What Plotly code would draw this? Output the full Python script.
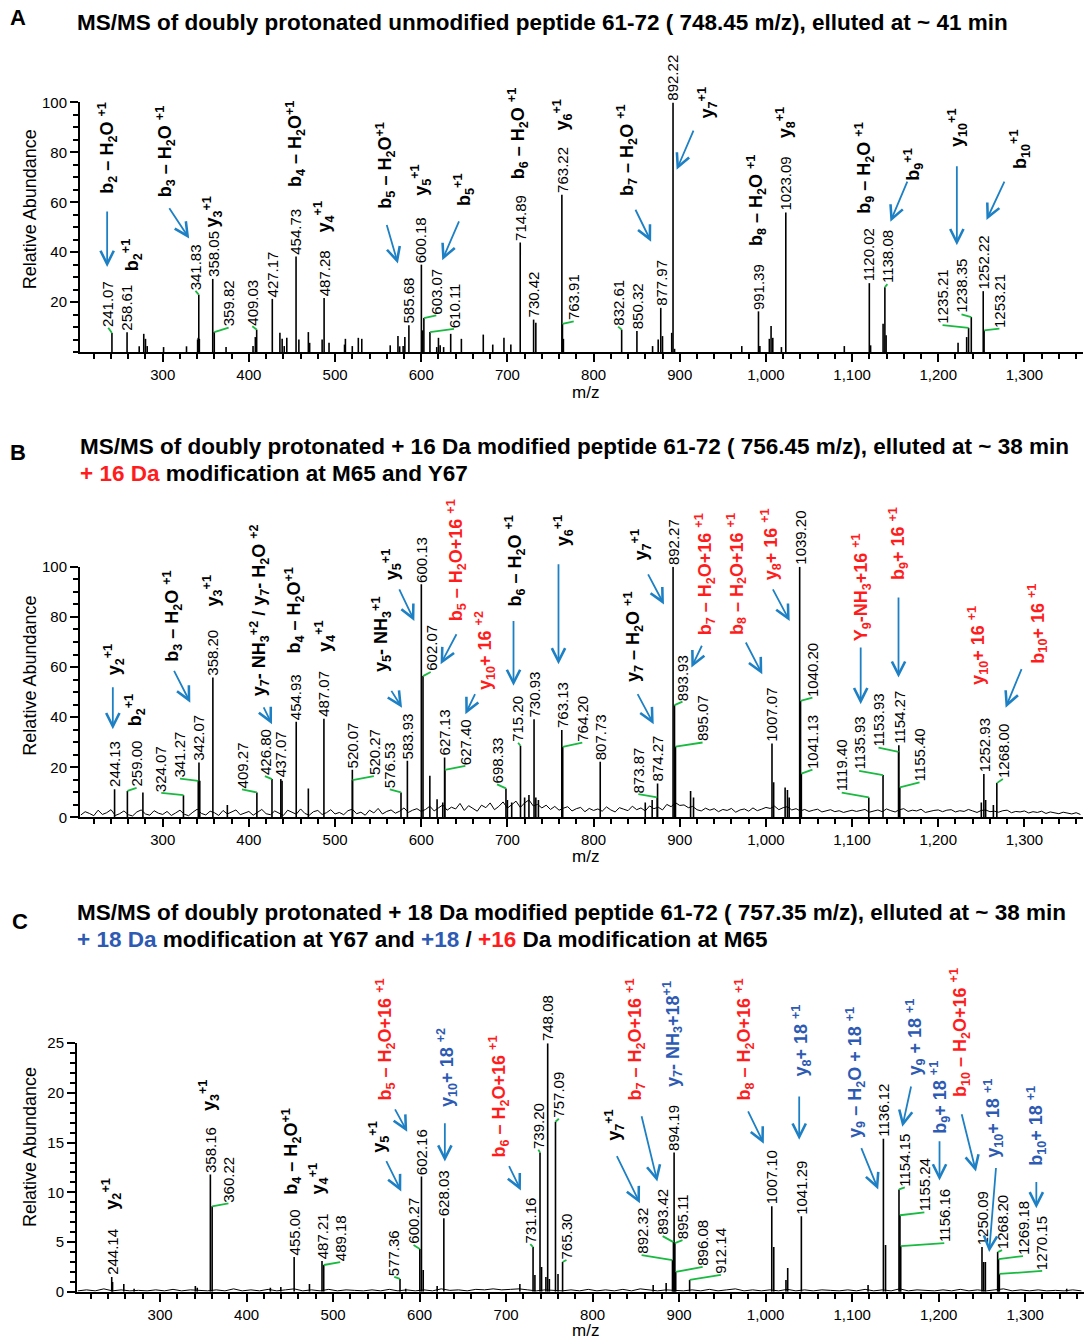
import numpy as np
import plotly.graph_objects as go

FONT = "Liberation Sans, Arial, sans-serif"
TFONT = "Liberation Sans Narrow, Arial Narrow, Liberation Sans, Arial, sans-serif"
RED = "rgb(255,28,28)"
BLUE = "rgb(45,90,178)"
ARROW = "rgb(30,128,196)"
GREEN = "rgb(24,186,64)"

# ---------------- Panel A data ----------------
A_lab_text = ["241.07", "258.61", "341.83", "358.05", "359.82", "409.03", "427.17", "454.73",
              "487.28", "585.68", "600.18", "603.07", "610.11", "714.89", "730.42", "763.22",
              "763.91", "832.61", "850.32", "877.97", "892.22", "991.39", "1023.09", "1120.02",
              "1138.08", "1235.21", "1238.35", "1252.22", "1253.21"]
A_lab_int = [7.6, 7.9, 23.0, 29.3, 8.0, 9.0, 21.3, 38.3,
             21.7, 10.7, 35.0, 13.6, 8.0, 43.9, 13.0, 63.0,
             11.3, 9.0, 8.4, 17.7, 100.0, 16.3, 55.9, 27.6,
             26.0, 9.7, 14.0, 24.4, 8.7]
A_small_mz = [272.7, 278, 280, 282, 301, 327.6, 340.5, 341.2, 342.5, 373.5, 404.8, 407.5, 436, 438.6,
              441, 444, 458, 469, 470.5, 485, 493, 511, 512, 520, 527, 531, 564, 573, 575, 579, 581,
              601.5, 618, 620, 622, 626, 634.2, 646.6, 672, 683, 696, 704, 733, 765, 868.5, 875, 880,
              890.7, 894, 972, 993, 1004, 1006, 1008, 1018, 1091, 1121.5, 1136, 1139.5, 1223, 1233]
A_small_int = [2.3, 7.3, 5.3, 2.4, 2.0, 2.3, 5.0, 5.7, 5.3, 2.0, 2.4, 6.0, 7.7, 5.3,
               2.4, 5.7, 5.0, 8.0, 3.7, 5.0, 3.7, 3.0, 5.3, 2.4, 5.7, 5.3, 2.7, 6.4, 2.3, 2.4, 6.0,
               8.7, 2.0, 5.7, 2.7, 2.0, 7.3, 5.3, 7.0, 3.0, 5.7, 3.0, 11.7, 5.3, 2.4, 5.0, 6.4,
               7.7, 1.3, 2.4, 2.4, 5.3, 10.4, 5.7, 2.0, 2.4, 2.7, 11.3, 6.7, 3.7, 6.0]

# ---------------- Panel B data ----------------
B_lab_text = ["244.13", "259.00", "324.07", "341.27", "342.07", "358.20", "409.27", "426.80",
              "437.07", "454.93", "487.07", "520.07", "520.27", "576.53", "583.93", "600.13",
              "602.07", "627.13", "627.40", "698.33", "715.20", "730.93", "763.13", "764.20",
              "807.73", "873.87", "874.27", "892.27", "893.93", "895.07", "1007.07", "1039.20",
              "1040.20", "1041.13", "1119.40", "1135.93", "1153.93", "1154.27", "1155.40",
              "1252.93", "1268.00"]
B_lab_int = [11.3, 10.6, 8.9, 14.6, 21.9, 55.8, 10.0, 15.3,
             15.3, 38.2, 39.4, 19.0, 14.9, 10.0, 22.6, 93.0,
             56.4, 23.9, 19.0, 11.6, 28.6, 39.2, 34.9, 28.2,
             22.2, 8.0, 13.5, 100.0, 44.8, 28.3, 29.5, 100.0,
             46.5, 17.5, 8.0, 16.9, 26.2, 28.8, 12.0,
             17.3, 13.7]
B_small_mz = [277, 343, 375, 438.5, 469, 610, 618.4, 625, 700, 705, 720, 725, 733, 736,
              860, 868, 912.6, 916, 1009, 1022.3, 1025, 1027, 1250, 1255, 1264]
B_small_int = [10.0, 14.6, 5.0, 14.6, 11.6, 16.6, 7.3, 6.0, 7.0, 6.0, 8.0, 9.0, 8.0, 7.0,
               6.0, 7.0, 10.6, 8.0, 14.0, 12.0, 11.0, 8.0, 6.0, 7.0, 5.0]
B_noise_start, B_noise_step = 205, 5
B_noise = [1.0, 2.3, 1.6, 0.7, 2.9, 1.2, 1.9, 3.1, 0.8, 1.5, 2.6, 1.1, 0.6, 2.2, 3.0, 1.4, 0.9, 2.7, 1.7, 1.2,
           2.4, 0.8, 1.8, 2.9, 1.3, 0.7, 2.1, 3.3, 1.6, 1.0, 2.5, 1.9, 0.8, 2.8, 1.4, 2.2, 3.0, 1.1, 1.7, 2.4,
           0.9, 2.0, 3.2, 1.5, 1.1, 2.6, 1.8, 0.8, 2.9, 2.2, 1.3, 3.4, 1.6, 0.9, 2.3, 2.8, 1.2, 1.9, 3.1, 1.4,
           2.0, 1.1, 2.7, 3.3, 1.5, 2.1, 0.9, 2.9, 1.8, 3.6, 1.4, 2.4, 3.0, 1.7, 2.5, 3.8, 2.0, 2.9, 3.5, 2.4,
           3.2, 4.5, 2.6, 3.8, 5.0, 2.9, 4.1, 3.4, 5.6, 2.8, 4.7, 3.6, 2.5, 4.9, 3.9, 5.8, 3.1, 4.4, 6.2, 3.7,
           5.3, 6.5, 4.0, 5.8, 7.0, 4.6, 5.2, 3.8, 4.9, 3.2, 4.4, 2.9, 3.7, 4.3, 2.6, 3.5, 4.0, 2.3, 3.6, 2.8,
           3.4, 2.5, 4.2, 3.0, 2.2, 3.9, 3.3, 2.7, 4.5, 3.1, 3.8, 2.6, 4.6, 3.5, 4.1, 3.0, 5.2, 4.3, 5.9, 4.8,
           5.0, 3.9, 4.4, 3.1, 2.6, 3.7, 2.9, 3.5, 2.3, 3.2, 2.8, 3.6, 2.1, 3.0, 3.4, 2.5, 3.8, 2.7, 3.3, 4.0,
           3.6, 4.5, 3.1, 3.9, 4.3, 3.0, 3.5, 2.6, 3.2, 2.4, 2.9, 3.3, 2.2, 2.8, 3.1, 2.3, 2.7, 2.0, 2.6, 2.9,
           2.4, 2.8, 3.2, 2.1, 2.6, 3.0, 2.3, 3.4, 2.7, 2.2, 3.1, 3.5, 2.4, 2.9, 2.6, 3.3, 2.0, 2.5, 2.8, 3.0,
           2.3, 2.9, 3.1, 2.2, 2.7, 2.4, 3.2, 2.6, 2.0, 2.8, 3.0, 2.3, 2.5, 2.1, 2.7, 2.9, 1.9, 2.4, 2.2, 2.6,
           1.8, 2.3, 2.0, 2.5, 1.6, 2.2, 1.9, 1.5, 2.1, 1.7, 1.4, 1.9, 1.2]

# ---------------- Panel C data ----------------
C_lab_text = ["244.14", "358.16", "360.22", "455.00", "487.21", "489.18", "577.36", "600.27",
              "602.16", "628.03", "731.16", "739.20", "748.08", "757.09", "765.30", "892.32",
              "893.42", "894.19", "895.11", "896.08", "912.14", "1007.10", "1041.29", "1136.12",
              "1154.15", "1155.24", "1156.16", "1250.09", "1268.20", "1269.18", "1270.15"]
C_lab_int = [1.5, 11.8, 8.6, 3.5, 3.1, 2.7, 1.3, 4.3,
             11.6, 7.4, 4.5, 14.0, 25.0, 17.1, 3.0, 3.2,
             5.0, 14.0, 4.9, 2.0, 1.2, 8.6, 7.6, 15.4,
             10.3, 7.7, 4.6, 4.5, 4.0, 3.3, 1.8]
C_small_mz = [245.1, 258.1, 270, 340.8, 343, 427.5, 439.6, 472.7, 584, 604.2, 620.3, 715.9, 733.3,
              741, 746, 750, 760, 870, 885, 1009.4, 1023.5, 1025.5, 1118.4, 1138.6, 1252, 1254, 1348]
C_small_int = [1.0, 0.8, 0.3, 0.6, 0.4, 0.4, 0.5, 0.8, 0.3, 2.2, 0.6, 0.8, 1.7,
               2.5, 1.5, 1.3, 1.8, 0.7, 0.9, 4.5, 1.2, 2.4, 0.7, 4.7, 3.0, 3.0, 0.3]
C_noise_start, C_noise_step = 205, 10
C_noise = [0.1, 0.2, 0.1, 0.3, 0.1, 0.2, 0.1, 0.15, 0.1, 0.2,
           0.1, 0.25, 0.1, 0.2, 0.15, 0.1, 0.2, 0.1, 0.3, 0.1,
           0.2, 0.1, 0.25, 0.1, 0.2, 0.3, 0.1, 0.2, 0.1, 0.25,
           0.1, 0.2, 0.15, 0.1, 0.2, 0.1, 0.25, 0.1, 0.2, 0.1,
           0.2, 0.1, 0.3, 0.15, 0.2, 0.1, 0.25, 0.2, 0.3, 0.2,
           0.25, 0.3, 0.2, 0.1, 0.2, 0.15, 0.1, 0.2, 0.1, 0.25,
           0.1, 0.2, 0.1, 0.25, 0.1, 0.3, 0.2, 0.1, 0.2, 0.15,
           0.1, 0.2, 0.1, 0.25, 0.1, 0.2, 0.3, 0.1, 0.2, 0.1,
           0.2, 0.1, 0.25, 0.1, 0.2, 0.1, 0.2, 0.15, 0.1, 0.2,
           0.1, 0.25, 0.1, 0.2, 0.1, 0.3, 0.1, 0.2, 0.15, 0.1,
           0.2, 0.1, 0.25, 0.1, 0.2, 0.1, 0.2, 0.3, 0.1, 0.2,
           0.1, 0.2, 0.1, 0.15, 0.1, 0.2, 0.1]

# ---------------- label placement (layout, not data) ----------------
A_leader = {"241.07": (236.8, 9.7), "341.83": (338.0, 24.5), "359.82": (376.5, 9.8),
            "409.03": (404.0, 10.3), "603.07": (617.5, 14.7), "610.11": (638.0, 9.3),
            "763.91": (777.0, 12.3), "832.61": (828.5, 10.2), "1138.08": (1141.0, 27.2),
            "1235.21": (1205.0, 10.8), "1238.35": (1227.0, 15.1), "1253.21": (1271.0, 9.4)}
B_leader = {"259.00": (269.7, 11.8), "324.07": (298.3, 9.8), "341.27": (320.0, 15.5),
            "409.27": (392.0, 11.2), "426.80": (418.6, 16.5), "520.27": (545.0, 16.5),
            "576.53": (563.5, 11.2), "602.07": (611.0, 58.0), "627.40": (651.2, 20.6),
            "698.33": (688.0, 13.2), "715.20": (712.4, 29.8), "764.20": (786.9, 29.9),
            "873.87": (852.0, 9.3), "893.93": (903.2, 46.2), "895.07": (926.5, 29.9),
            "1040.20": (1054.0, 47.8), "1041.13": (1054.0, 19.1), "1119.40": (1088.0, 9.9),
            "1135.93": (1108.2, 18.6), "1153.93": (1130.7, 27.9), "1155.40": (1178.3, 14.0),
            "1268.00": (1275.0, 15.3)}
C_leader = {"360.22": (379.1, 8.9), "489.18": (508.2, 3.0), "577.36": (570.7, 1.5),
            "600.27": (593.0, 4.7), "731.16": (728.0, 4.8), "739.20": (737.3, 14.3),
            "757.09": (761.0, 17.4), "765.30": (769.8, 3.2), "892.32": (856.6, 3.7),
            "893.42": (880.9, 5.6), "895.11": (903.9, 5.2), "896.08": (927.3, 2.5),
            "912.14": (948.3, 1.7), "1154.15": (1160.9, 10.5), "1155.24": (1183.5, 8.0),
            "1156.16": (1206.5, 4.9), "1268.20": (1273.3, 4.2), "1269.18": (1297.5, 3.6),
            "1270.15": (1319.7, 2.1)}

K = "black"
A_ions = [("b<sub>2</sub> – H<sub>2</sub>O <sup>+1</sup>", K, 235.5, 62.9),
          ("b<sub>2</sub><sup>+1</sup>", K, 264.7, 32.1),
          ("b<sub>3</sub> – H<sub>2</sub>O <sup>+1</sup>", K, 303.2, 61.6),
          ("y<sub>3</sub><sup>+1</sup>", K, 357.9, 49.5),
          ("b<sub>4</sub> – H<sub>2</sub>O<sup>+1</sup>", K, 453.3, 65.6),
          ("y<sub>4</sub><sup>+1</sup>", K, 487.7, 47.5),
          ("b<sub>5</sub> – H<sub>2</sub>O<sup>+1</sup>", K, 558.7, 56.9),
          ("y<sub>5</sub><sup>+1</sup>", K, 599.2, 62.2),
          ("b<sub>5</sub><sup>+1</sup>", K, 649.9, 58.2),
          ("b<sub>6</sub> – H<sub>2</sub>O <sup>+1</sup>", K, 712.0, 68.9),
          ("y<sub>6</sub><sup>+1</sup>", K, 764.2, 88.4),
          ("b<sub>7</sub> – H<sub>2</sub>O <sup>+1</sup>", K, 838.4, 62.2),
          ("y<sub>7</sub><sup>+1</sup>", K, 931.7, 93.0),
          ("b<sub>8</sub> – H<sub>2</sub>O <sup>+1</sup>", K, 988.4, 42.2),
          ("y<sub>8</sub><sup>+1</sup>", K, 1022.2, 85.0),
          ("b<sub>9</sub> – H<sub>2</sub>O <sup>+1</sup>", K, 1114.2, 54.9),
          ("b<sub>9</sub><sup>+1</sup>", K, 1170.9, 68.3),
          ("y<sub>10</sub><sup>+1</sup>", K, 1221.6, 81.7),
          ("b<sub>10</sub><sup>+1</sup>", K, 1294.5, 73.0)]
A_arrows = [(235.5, 56.9, 235.5, 34.1), (306.5, 58.2, 330.7, 45.5), (559.5, 51.5, 572.9, 35.5),
            (644.6, 52.9, 624.4, 36.8), (847.8, 57.6, 866.8, 44.2), (916.7, 89.3, 896.4, 73.0),
            (1164.8, 68.9, 1144.5, 52.2), (1221.6, 75.0, 1221.6, 42.8), (1277.6, 68.9, 1256.0, 52.9)]

B_ions = [("y<sub>2</sub><sup>+1</sup>", K, 243.2, 56.4),
          ("b<sub>2</sub><sup>+1</sup>", K, 267.6, 35.9),
          ("b<sub>3</sub> – H<sub>2</sub>O <sup>+1</sup>", K, 310.5, 61.8),
          ("y<sub>3</sub><sup>+1</sup>", K, 357.5, 83.7),
          ("y<sub>7</sub>- NH<sub>3</sub><sup>+2</sup> / y<sub>7</sub>- H<sub>2</sub>O <sup>+2</sup>", K, 412.4, 47.8),
          ("b<sub>4</sub> – H<sub>2</sub>O<sup>+1</sup>", K, 452.4, 65.0),
          ("y<sub>4</sub><sup>+1</sup>", K, 487.9, 65.7),
          ("y<sub>5</sub>- NH<sub>3</sub><sup>+1</sup>", K, 553.2, 57.8),
          ("y<sub>5</sub><sup>+1</sup>", K, 565.7, 94.3),
          ("b<sub>5</sub> – H<sub>2</sub>O+16 <sup>+1</sup>", RED, 641.0, 77.7),
          ("y<sub>10</sub>+ 16 <sup>+2</sup>", RED, 673.6, 50.5),
          ("b<sub>6</sub> – H<sub>2</sub>O <sup>+1</sup>", K, 708.2, 83.7),
          ("y<sub>6</sub><sup>+1</sup>", K, 764.6, 107.6),
          ("y<sub>7</sub> – H<sub>2</sub>O <sup>+1</sup>", K, 846.2, 53.8),
          ("y<sub>7</sub><sup>+1</sup>", K, 855.0, 102.3),
          ("b<sub>7</sub> – H<sub>2</sub>O+16 <sup>+1</sup>", RED, 929.7, 72.4),
          ("b<sub>8</sub> – H<sub>2</sub>O+16 <sup>+1</sup>", RED, 966.5, 72.4),
          ("y<sub>8</sub>+ 16 <sup>+1</sup>", RED, 1005.1, 94.3),
          ("Y<sub>9</sub>-NH<sub>3</sub>+16 <sup>+1</sup>", RED, 1111.1, 69.7),
          ("b<sub>9</sub>+ 16 <sup>+1</sup>", RED, 1153.9, 94.3),
          ("y<sub>10</sub>+ 16 <sup>+1</sup>", RED, 1245.6, 52.5),
          ("b<sub>10</sub>+ 16 <sup>+1</sup>", RED, 1315.0, 61.1)]
B_arrows = [(242.1, 52.5, 242.1, 35.2), (312.3, 59.1, 332.0, 45.8), (416.3, 44.5, 426.8, 37.2),
            (564.3, 51.1, 577.7, 43.8), (573.7, 91.6, 592.0, 78.4), (641.8, 73.7, 622.5, 61.1),
            (663.3, 49.8, 651.2, 41.2), (707.1, 79.0, 707.1, 52.5), (759.3, 101.6, 759.3, 61.1),
            (850.2, 49.8, 869.8, 37.2), (862.4, 97.6, 881.7, 85.0), (926.5, 69.1, 913.5, 59.8),
            (975.8, 70.4, 995.8, 57.1), (1007.2, 91.6, 1027.6, 78.4), (1110.0, 68.4, 1110.0, 45.2),
            (1153.9, 88.3, 1153.9, 55.8), (1297.4, 59.8, 1278.2, 43.8)]

C_ions = [("y<sub>2</sub><sup>+1</sup>", K, 244.3, 8.2),
          ("y<sub>3</sub><sup>+1</sup>", K, 356.3, 18.1),
          ("b<sub>4</sub> – H<sub>2</sub>O<sup>+1</sup>", K, 451.7, 9.7),
          ("y<sub>4</sub><sup>+1</sup>", K, 483.2, 9.7),
          ("y<sub>5</sub><sup>+1</sup>", K, 552.6, 13.9),
          ("b<sub>5</sub> – H<sub>2</sub>O+16 <sup>+1</sup>", RED, 560.7, 19.1),
          ("y<sub>10</sub>+ 18 <sup>+2</sup>", BLUE, 631.2, 18.5),
          ("b<sub>6</sub> – H<sub>2</sub>O+16 <sup>+1</sup>", RED, 691.7, 13.4),
          ("y<sub>7</sub><sup>+1</sup>", K, 824.4, 15.1),
          ("b<sub>7</sub> – H<sub>2</sub>O+16 <sup>+1</sup>", RED, 849.8, 19.1),
          ("y<sub>7</sub>- NH<sub>3</sub>+18<sup>+1</sup>", BLUE, 893.0, 20.5),
          ("b<sub>8</sub> – H<sub>2</sub>O+16 <sup>+1</sup>", RED, 975.7, 19.1),
          ("y<sub>8</sub>+ 18 <sup>+1</sup>", BLUE, 1041.6, 21.5),
          ("y<sub>9</sub> – H<sub>2</sub>O + 18 <sup>+1</sup>", BLUE, 1103.0, 15.4),
          ("y<sub>9</sub> + 18 <sup>+1</sup>", BLUE, 1172.8, 21.6),
          ("b<sub>9</sub>+ 18 <sup>+1</sup>", BLUE, 1201.0, 15.8),
          ("b<sub>10</sub> – H<sub>2</sub>O+16 <sup>+1</sup>", RED, 1224.2, 19.5),
          ("y<sub>10</sub>+ 18 <sup>+1</sup>", BLUE, 1262.4, 13.4),
          ("b<sub>10</sub>+ 18 <sup>+1</sup>", BLUE, 1312.9, 12.6)]
C_arrows = [(560.7, 13.3, 578.8, 10.1), (570.7, 18.5, 585.7, 16.1), (629.2, 17.1, 629.2, 13.1),
            (702.6, 12.8, 717.1, 10.2), (827.2, 13.8, 854.7, 8.9), (856.2, 17.8, 874.8, 11.1),
            (978.9, 18.3, 997.9, 14.9), (1038.8, 19.8, 1038.8, 15.3), (1109.9, 14.6, 1130.1, 10.3),
            (1168.5, 20.8, 1158.0, 16.6), (1201.0, 15.3, 1201.0, 11.2), (1226.2, 18.0, 1243.1, 12.1),
            (1266.4, 12.6, 1258.4, 4.0), (1312.9, 11.2, 1312.9, 8.4)]

# ---------------- build figure ----------------
W, H = 1092, 1342
# the captured page comes out vertically offset/compressed a little; compensate
Y_OFF, Y_SCALE = 8.5, 0.9886


def pyf(p):
    return 1 - ((p - Y_OFF) / Y_SCALE) / H


def pxf(p):
    return p / W


panels = [
    dict(key="", xdom=(80, 1083), ydom=(352, 102), xr=(204, 1368), yr=(0, 100), minor=5,
         tickvals=[20, 40, 60, 80, 100], lab_text=A_lab_text, lab_int=A_lab_int,
         small_mz=A_small_mz, small_int=A_small_int, noise=None, leader=A_leader,
         ions=A_ions, arrows=A_arrows, gap=0.3),
    dict(key="2", xdom=(80, 1083), ydom=(818, 567), xr=(204, 1368), yr=(0, 100), minor=5,
         tickvals=[0, 20, 40, 60, 80, 100], lab_text=B_lab_text, lab_int=B_lab_int,
         small_mz=B_small_mz, small_int=B_small_int,
         noise=(B_noise_start, B_noise_step, B_noise), leader=B_leader,
         ions=B_ions, arrows=B_arrows, gap=0.3),
    dict(key="3", xdom=(77, 1084), ydom=(1293, 1044), xr=(204, 1368), yr=(0, 25), minor=1,
         tickvals=[0, 5, 10, 15, 20, 25], lab_text=C_lab_text, lab_int=C_lab_int,
         small_mz=C_small_mz, small_int=C_small_int,
         noise=(C_noise_start, C_noise_step, C_noise), leader=C_leader,
         ions=C_ions, arrows=C_arrows, gap=0.08),
]

fig = go.Figure()
annotations = []
shapes = []

for p in panels:
    xa, ya = "x" + p["key"], "y" + p["key"]
    y0, y1 = p["yr"]

    def dom(v):
        return (v - y0) / (y1 - y0)

    if p["noise"] is not None:
        st, step, vals = p["noise"]
        nx = np.arange(len(vals)) * step + st
        fig.add_trace(go.Scatter(x=nx, y=vals, mode="lines", xaxis=xa, yaxis=ya,
                                 line=dict(color="black", width=1), hoverinfo="skip"))
    mz = [float(t) for t in p["lab_text"]] + list(p["small_mz"])
    it = list(p["lab_int"]) + list(p["small_int"])
    xs, ys = [], []
    for m, h in zip(mz, it):
        xs += [m, m, None]
        ys += [0, h, None]
    fig.add_trace(go.Scatter(x=xs, y=ys, mode="lines", xaxis=xa, yaxis=ya, cliponaxis=False,
                             line=dict(color="black", width=1.6), hoverinfo="skip"))
    for t, h in zip(p["lab_text"], p["lab_int"]):
        if t in p["leader"]:
            lx, ly = p["leader"][t]
            shapes.append(dict(type="line", xref=xa, yref=ya, x0=float(t), y0=h, x1=lx, y1=ly,
                               line=dict(color=GREEN, width=1.8), layer="above"))
        else:
            lx, ly = float(t), h + p["gap"]
        annotations.append(dict(text=t, x=lx, y=dom(ly), xref=xa, yref=ya + " domain",
                                showarrow=False, textangle=-90, xanchor="center", yanchor="bottom",
                                font=dict(family=FONT, size=15, color="black"), borderpad=0))
    for txt, col, x, y in p["ions"]:
        annotations.append(dict(text="<b>" + txt + "</b>", x=x, y=dom(y), xref=xa,
                                yref=ya + " domain", showarrow=False, textangle=-90,
                                xanchor="center", yanchor="bottom",
                                font=dict(family=FONT, size=18, color=col), borderpad=0))
    for xt, yt, xh, yh in p["arrows"]:
        annotations.append(dict(text="", x=xh, y=yh, ax=xt, ay=yt, xref=xa, yref=ya,
                                axref=xa, ayref=ya, showarrow=True, arrowhead=5, arrowsize=1.45,
                                arrowwidth=1.8, arrowcolor=ARROW, standoff=0, startstandoff=0))

    fig.layout["xaxis" + p["key"]] = dict(
        domain=[pxf(p["xdom"][0]), pxf(p["xdom"][1])], range=list(p["xr"]),
        anchor=ya, showline=True, linecolor="black", linewidth=2,
        ticks="outside", ticklen=8, tickwidth=2, tickcolor="black",
        dtick=100, tick0=0, tickformat=",d", showgrid=False, zeroline=False,
        tickfont=dict(family=FONT, size=15, color="black"),
        minor=dict(ticks="outside", ticklen=5, tickwidth=1.5, dtick=20, tick0=0,
                   tickcolor="black", showgrid=False))
    fig.layout["yaxis" + p["key"]] = dict(
        domain=[pyf(p["ydom"][0]), pyf(p["ydom"][1])], range=list(p["yr"]),
        anchor=xa, showline=True, linecolor="black", linewidth=2,
        ticks="outside", ticklen=8, tickwidth=2, tickcolor="black",
        tickvals=p["tickvals"], showgrid=False, zeroline=False,
        tickfont=dict(family=FONT, size=15, color="black"),
        minor=dict(ticks="outside", ticklen=5, tickwidth=1.5, dtick=p["minor"], tick0=0,
                   tickcolor="black", showgrid=False))

for yc in (209, 676, 1148):
    annotations.append(dict(text="Relative Abundance", x=pxf(30), y=pyf(yc), xref="paper",
                            yref="paper", showarrow=False, textangle=-90, xanchor="center",
                            yanchor="middle", font=dict(family=FONT, size=18, color="black")))
for xc, yc in ((585, 392), (585, 857), (585, 1332)):
    annotations.append(dict(text="m/z", x=pxf(xc), y=pyf(yc), xref="paper", yref="paper",
                            showarrow=False, xanchor="center", yanchor="middle",
                            font=dict(family=FONT, size=17, color="black")))

for letter, xc, yc in (("A", 18, 17), ("B", 18, 453), ("C", 20, 922)):
    annotations.append(dict(text="<b>" + letter + "</b>", x=pxf(xc), y=pyf(yc), xref="paper",
                            yref="paper", showarrow=False, xanchor="center", yanchor="middle",
                            font=dict(family=FONT, size=22, color="black")))

titles = [
    ("<b>MS/MS of doubly protonated unmodified peptide 61-72 ( 748.45 m/z), elluted at ~ 41 min</b>", 75, 22),
    ("<b>MS/MS of doubly protonated + 16 Da modified peptide 61-72 ( 756.45 m/z), elluted at ~ 38 min</b>", 78, 447),
    ("<b><span style='color:" + RED + "'>+ 16 Da</span> modification at M65 and Y67</b>", 78, 474),
    ("<b>MS/MS of doubly protonated + 18 Da modified peptide 61-72 ( 757.35 m/z), elluted at ~ 38 min</b>", 75, 913),
    ("<b><span style='color:" + BLUE + "'>+ 18 Da</span> modification at Y67 and <span style='color:" + BLUE
     + "'>+18</span> / <span style='color:" + RED + "'>+16</span> Da modification at M65</b>", 75, 940),
]
for t, xl, yc in titles:
    annotations.append(dict(text=t, x=pxf(xl), y=pyf(yc), xref="paper", yref="paper",
                            showarrow=False, xanchor="left", yanchor="middle",
                            font=dict(family=TFONT, size=22.5, color="black")))

fig.update_layout(width=W, height=H, margin=dict(l=0, r=0, t=0, b=0), autosize=False,
                  paper_bgcolor="white", plot_bgcolor="white", showlegend=False,
                  annotations=annotations, shapes=shapes, font=dict(family=FONT))

fig.write_html("out.html", post_script="document.body.style.margin='0';")
